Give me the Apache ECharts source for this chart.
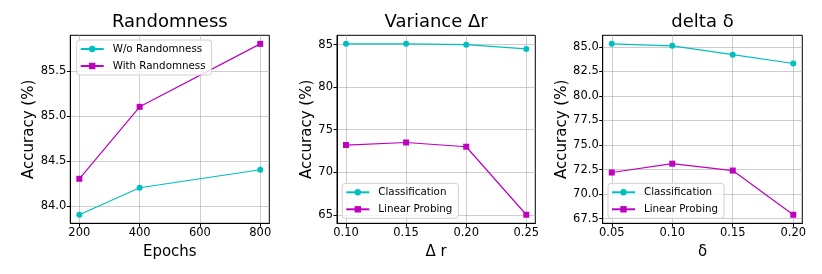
<!DOCTYPE html>
<html>
<head>
<meta charset="utf-8">
<script src="https://cdn.jsdelivr.net/npm/echarts@6/dist/echarts.min.js"></script>
<style>html,body{margin:0;padding:0;background:#fff;}#c{width:822px;height:274px;}</style>
</head>
<body>
<div id="c"></div>
<script>
// ---- Data ----
const epochs = [200, 400, 800];
const woRandomness = [83.9, 84.2, 84.4];
const withRandomness = [84.3, 85.1, 85.8];
const epochTicks = [200, 400, 600, 800];
const randTicks = [84.0, 84.5, 85.0, 85.5];

const deltaR = [0.10, 0.15, 0.20, 0.25];
const drClassification = [85.1, 85.1, 85.0, 84.5];
const drLinear = [73.2, 73.5, 73.0, 65.0];
const drXTicks = [0.10, 0.15, 0.20, 0.25];
const drYTicks = [65, 70, 75, 80, 85];

const deltaD = [0.05, 0.10, 0.15, 0.20];
const ddClassification = [85.3, 85.1, 84.2, 83.3];
const ddLinear = [72.2, 73.1, 72.4, 67.9];
const ddXTicks = [0.05, 0.10, 0.15, 0.20];
const ddYTicks = [67.5, 70.0, 72.5, 75.0, 77.5, 80.0, 82.5, 85.0];

const titles = ['Randomness', 'Variance \u0394r', 'delta \u03b4'];
const xNames = ['Epochs', '\u0394 r', '\u03b4'];
const yName = 'Accuracy (%)';

// ---- helpers ----
const FONT = 'DejaVu Sans';
const CYAN = '#00bfbf', MAG = '#bf00bf';
function lim(arrs) {
  const all = [].concat(...arrs);
  const mn = Math.min(...all), mx = Math.max(...all), m = (mx - mn) * 0.05;
  return [mn - m, mx + m];
}
const zip = (xs, ys) => xs.map((x, i) => [x, ys[i]]);

const grids = [
  {left: 70.3, top: 35.3, width: 199, height: 188},
  {left: 337, top: 35.3, width: 198.3, height: 188},
  {left: 602.7, top: 35.3, width: 199.6, height: 188}
];
const xLims = [lim([epochs]), lim([deltaR]), lim([deltaD])];
const yLims = [lim([woRandomness, withRandomness]), lim([drClassification, drLinear]), lim([ddClassification, ddLinear])];
const xTicks = [epochTicks, drXTicks, ddXTicks];
const yTicks = [randTicks, drYTicks, ddYTicks];
const xDec = [0, 2, 2];
const yDec = [1, 0, 1];
const yNameGap = [29, 21, 31];

const option = {
  animation: false,
  backgroundColor: '#fff',
  textStyle: {fontFamily: FONT},
  title: titles.map((t, i) => ({
    text: t,
    left: grids[i].left + grids[i].width / 2,
    textAlign: 'center',
    top: 13,
    padding: 0,
    textStyle: {fontFamily: FONT, fontSize: 18, fontWeight: 'normal', color: '#000'}
  })),
  grid: grids.map(g => Object.assign({show: true, borderColor: '#000', borderWidth: 1, backgroundColor: 'transparent'}, g)),
  xAxis: grids.map((g, i) => ({
    type: 'value', gridIndex: i, min: xLims[i][0], max: xLims[i][1],
    name: xNames[i], nameLocation: 'middle', nameGap: 17,
    nameTextStyle: {fontFamily: FONT, fontSize: 15, color: '#000'},
    axisLine: {show: true, onZero: false, lineStyle: {color: '#000', width: 1}},
    axisTick: {show: true, length: 3.5, lineStyle: {color: '#000'}, customValues: xTicks[i]},
    axisLabel: {customValues: xTicks[i], fontFamily: FONT, fontSize: 11.5, color: '#000', margin: 4,
      formatter: v => Number(v).toFixed(xDec[i])},
    splitLine: {show: true, lineStyle: {color: '#b0b0b0', width: 0.8, opacity: 0.8}}
  })),
  yAxis: grids.map((g, i) => ({
    type: 'value', gridIndex: i, min: yLims[i][0], max: yLims[i][1],
    name: yName, nameLocation: 'middle', nameGap: yNameGap[i], nameRotate: 90,
    nameTextStyle: {fontFamily: FONT, fontSize: 15, color: '#000'},
    axisLine: {show: true, onZero: false, lineStyle: {color: '#000', width: 1}},
    axisTick: {show: true, length: 3.5, lineStyle: {color: '#000'}, customValues: yTicks[i]},
    axisLabel: {customValues: yTicks[i], fontFamily: FONT, fontSize: 11.5, color: '#000', margin: 4,
      formatter: v => Number(v).toFixed(yDec[i])},
    splitLine: {show: true, lineStyle: {color: '#b0b0b0', width: 0.8, opacity: 0.8}}
  })),
  legend: [
    {data: ['W/o Randomness', 'With Randomness'], left: 76.7, top: 40},
    {data: ['Classification', 'Linear Probing'], left: 342.3, top: 183.3},
    {data: ['Classification', 'Linear Probing'], left: 608, top: 183.3}
  ].map(l => Object.assign({
    orient: 'vertical', itemWidth: 23, itemHeight: 8, itemGap: 7,
    padding: [4, 6, 4, 3], borderColor: '#d0d0d0', borderWidth: 1, borderRadius: 3,
    backgroundColor: 'rgba(255,255,255,0.8)',
    textStyle: {fontFamily: FONT, fontSize: 10.3, color: '#000', padding: [0, 0, 0, 4]},
    selectedMode: false
  }, l)),
  series: []
};

function addSeries(name, xs, ys, idx, color, symbol) {
  option.series.push({
    type: 'line', name, xAxisIndex: idx, yAxisIndex: idx,
    data: zip(xs, ys), symbol, symbolSize: 6,
    lineStyle: {color, width: 1.2}, itemStyle: {color},
    emphasis: {disabled: true}
  });
}
addSeries('W/o Randomness', epochs, woRandomness, 0, CYAN, 'circle');
addSeries('With Randomness', epochs, withRandomness, 0, MAG, 'rect');
addSeries('Classification', deltaR, drClassification, 1, CYAN, 'circle');
addSeries('Linear Probing', deltaR, drLinear, 1, MAG, 'rect');
addSeries('Classification', deltaD, ddClassification, 2, CYAN, 'circle');
addSeries('Linear Probing', deltaD, ddLinear, 2, MAG, 'rect');

const chart = echarts.init(document.getElementById('c'), null, {renderer: 'canvas'});
chart.setOption(option);
</script>
</body>
</html>
